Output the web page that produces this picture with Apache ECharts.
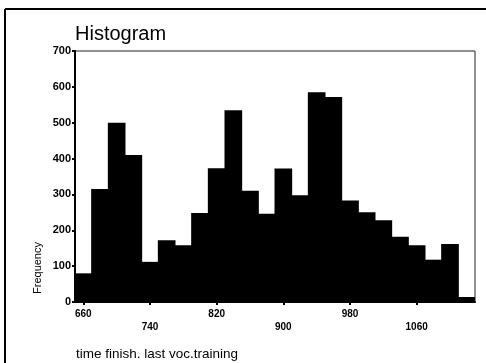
<!DOCTYPE html>
<html>
<head>
<meta charset="utf-8">
<script src="https://cdn.jsdelivr.net/npm/echarts@6/dist/echarts.min.js"></script>
<style>html,body{margin:0;padding:0;background:#fff;}#c{width:486px;height:363px;}</style>
</head>
<body>
<div id="c"></div>
<script>
const categories = [660,680,700,720,740,760,780,800,820,840,860,880,900,920,940,960,980,1000,1020,1040,1060,1080,1100,1120];
const frequency = [80,315,500,410,112,172,158,248,373,535,310,246,372,298,585,572,283,250,228,182,158,118,162,14];
const yTicks = [0,100,200,300,400,500,600,700];
const titleText = 'Histogram';
const xTitle = 'time finish. last voc.training';
const yTitle = 'Frequency';

const chart = echarts.init(document.getElementById('c'), null, {renderer:'canvas'});
chart.setOption({
  animation: false,
  backgroundColor: '#fff',
  title: {
    text: titleText, left: 75, top: 24, padding: 0,
    textStyle: {fontFamily: 'Liberation Sans', fontSize: 20, fontWeight: 'normal', color: '#000'}
  },
  grid: {left: 75, top: 51, right: 11, bottom: 61, show: true, borderColor: '#222', borderWidth: 1, backgroundColor: '#fff'},
  xAxis: {
    type: 'category', data: categories.map(String), boundaryGap: true,
    axisLine: {lineStyle: {color: '#000', width: 2}},
    axisTick: {show: true, alignWithLabel: true, interval: 3, length: 3, lineStyle: {color: '#000', width: 2}},
    axisLabel: {
      interval: 3, margin: 6, color: '#000', fontFamily: 'Liberation Sans', fontSize: 10, fontWeight: 'bold', lineHeight: 13,
      formatter: function (v, i) { return (i % 8 === 4) ? '\n' + v : v; }
    }
  },
  yAxis: {
    type: 'value', min: yTicks[0], max: yTicks[yTicks.length - 1], interval: 100,
    splitLine: {show: false},
    axisLine: {show: true, lineStyle: {color: '#000', width: 2}},
    axisTick: {show: true, length: 3, lineStyle: {color: '#000', width: 2}},
    axisLabel: {margin: 4, color: '#000', fontFamily: 'Liberation Sans', fontSize: 11, fontWeight: 'bold'}
  },
  series: [{
    type: 'bar', data: frequency, barWidth: '106%', barGap: '-100%',
    itemStyle: {color: '#000'}
  }],
  graphic: [
    {type: 'line', shape: {x1: 5, y1: 9, x2: 486, y2: 9}, style: {stroke: '#000', lineWidth: 2}},
    {type: 'line', shape: {x1: 5, y1: 9, x2: 5, y2: 363}, style: {stroke: '#000', lineWidth: 2}},
    {type: 'text', left: 76, top: 347, style: {text: xTitle, fontFamily: 'Liberation Sans', fontSize: 13.5, fill: '#000'}},
    {type: 'text', x: 38, y: 268, rotation: Math.PI / 2,
     style: {text: yTitle, fontFamily: 'Liberation Sans', fontSize: 11, fill: '#000', align: 'center', verticalAlign: 'middle'}}
  ]
});
</script>
</body>
</html>
